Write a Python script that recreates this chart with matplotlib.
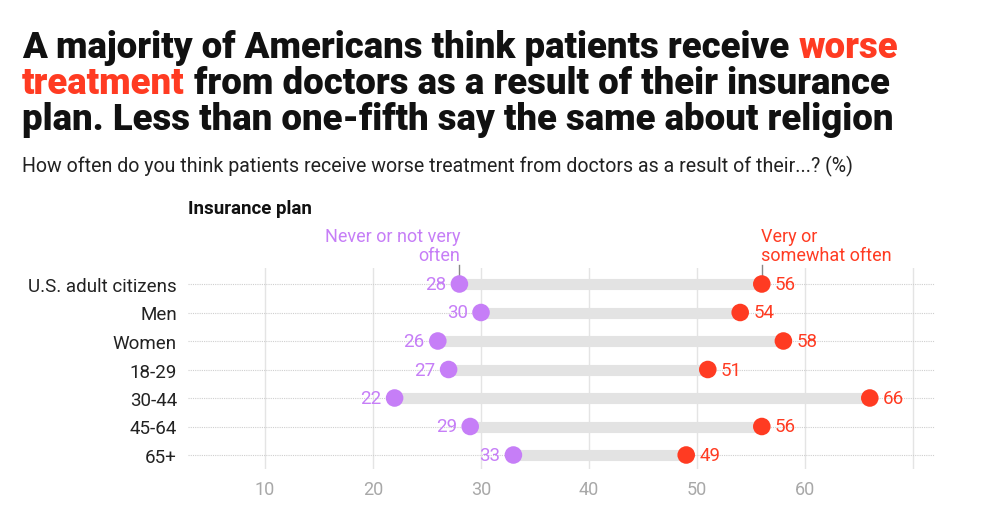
import matplotlib
matplotlib.use("Agg")
import matplotlib.pyplot as plt

categories = ["U.S. adult citizens", "Men", "Women", "18-29", "30-44", "45-64", "65+"]
never_vals = [28, 30, 26, 27, 22, 29, 33]
often_vals = [56, 54, 58, 51, 66, 56, 49]
xticks = [10, 20, 30, 40, 50, 60]

PURPLE = "#C67EF7"
RED = "#FF3B22"
GRAY = "#E3E3E3"
W, H = 983, 510

fig = plt.figure(figsize=(W / 100, H / 100), dpi=100)
plt.rcParams['font.family'] = ['Roboto', 'DejaVu Sans']

rowpx = 28.5
top_px = 285 - 0.55 * rowpx
bot_px = 456 + 0.5 * rowpx
ax = fig.add_axes([188 / W, 1 - bot_px / H, (935 - 188) / W, (bot_px - top_px) / H])
x0 = 10 - (265 - 188) / 10.8
x1 = 10 + (935 - 265) / 10.8
ax.set_xlim(x0, x1)
n = len(categories)
ax.set_ylim(n - 0.5, -0.55)

for i, (a, b) in enumerate(zip(never_vals, often_vals)):
    ax.axhline(i, color="#CFCFCF", lw=0.8, ls=(0, (1, 1)), zorder=1)
    ax.plot([a, b], [i, i], color=GRAY, lw=8, solid_capstyle="butt", zorder=2)
    ax.scatter([a], [i], s=160, color=PURPLE, zorder=4, edgecolors="none")
    ax.scatter([b], [i], s=160, color=RED, zorder=4, edgecolors="none")
    ax.text(a - 1.2, i, str(a), color=PURPLE, ha="right", va="center", fontsize=13.5)
    ax.text(b + 1.2, i, str(b), color=RED, ha="left", va="center", fontsize=13.5)

for t in xticks + [70]:
    ax.axvline(t, color="#E4E4E4", lw=1, zorder=0)

ax.set_xticks(xticks)
ax.set_xticklabels([str(t) for t in xticks], color="#A8A8A8", fontsize=13)
ax.tick_params(axis="x", length=0, pad=8)
ax.set_yticks(range(n))
ax.set_yticklabels(categories, fontsize=13.5, color="#222222")
ax.tick_params(axis="y", length=0, pad=8)
for s in ax.spines.values():
    s.set_visible(False)

# annotations
ax.plot([never_vals[0], never_vals[0]], [-0.2, -0.68], color="#888888", lw=1, clip_on=False, zorder=3)
ax.plot([often_vals[0], often_vals[0]], [-0.2, -0.68], color="#888888", lw=1, clip_on=False, zorder=3)
ax.text(never_vals[0] + 0.1, -0.7, "Never or not very\noften", color=PURPLE, ha="right", va="bottom",
        fontsize=13, linespacing=1.05)
ax.text(often_vals[0] - 0.1, -0.7, "Very or\nsomewhat often", color=RED, ha="left", va="bottom",
        fontsize=13, linespacing=1.05)

# title
tkw = dict(fontsize=26.3, fontweight="black", color="#111111", family=["Roboto", "DejaVu Sans"])
t1 = fig.text(22 / W, 1 - 58 / H, "A majority of Americans think patients receive ", **tkw)
fig.canvas.draw()
r = fig.canvas.get_renderer()
bb = t1.get_window_extent(r)
fig.text(bb.x1 / W, 1 - 58 / H, "worse", **{**tkw, "color": RED})
t2 = fig.text(22 / W, 1 - 94 / H, "treatment", **{**tkw, "color": RED})
bb2 = t2.get_window_extent(r)
fig.text(bb2.x1 / W, 1 - 94 / H, " from doctors as a result of their insurance", **tkw)
fig.text(22 / W, 1 - 130 / H, "plan. Less than one-fifth say the same about religion", **tkw)

fig.text(22 / W, 1 - 172 / H,
         "How often do you think patients receive worse treatment from doctors as a result of their...? (%)",
         fontsize=14.1, color="#222222")
fig.text(188 / W, 1 - 214 / H, "Insurance plan", fontsize=13.5, fontweight="bold", color="#111111")

fig.savefig("out.png", dpi=100, facecolor="white")
